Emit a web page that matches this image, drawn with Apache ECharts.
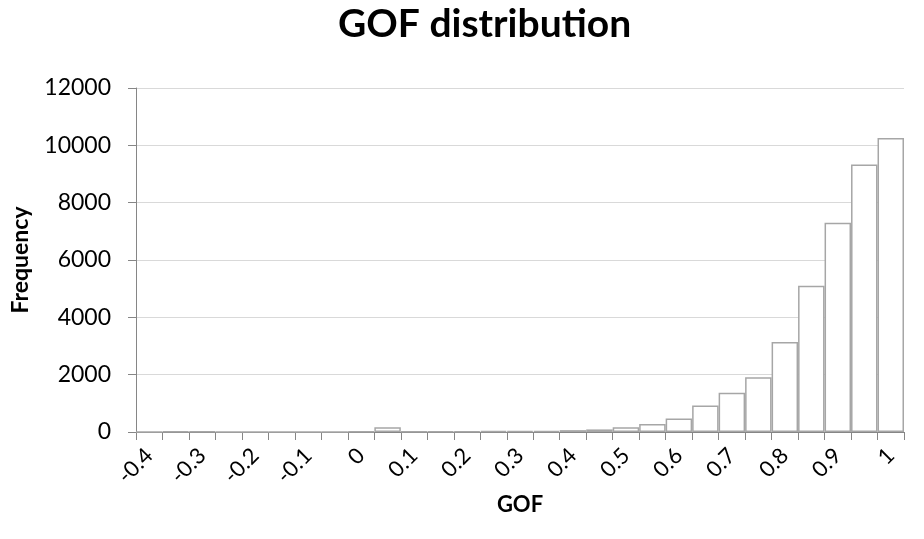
<!DOCTYPE html>
<html>
<head>
<meta charset="utf-8">
<script src="https://cdn.jsdelivr.net/npm/echarts@6/dist/echarts.min.js"></script>
<style>html,body{margin:0;padding:0;background:#fff;}#chart{width:924px;height:539px;}</style>
</head>
<body>
<div id="chart"></div>
<script>
const categories = ['-0.4','-0.35','-0.3','-0.25','-0.2','-0.15','-0.1','-0.05','0','0.05','0.1','0.15','0.2','0.25','0.3','0.35','0.4','0.45','0.5','0.55','0.6','0.65','0.7','0.75','0.8','0.85','0.9','0.95','1'];
const frequency = [0,20,20,0,0,0,0,0,20,170,15,15,25,30,30,35,65,90,170,280,470,925,1365,1910,3140,5100,7300,9330,10260];
const chartTitle = 'GOF distribution';
const xName = 'GOF';
const yName = 'Frequency';

const font = 'Lato, "Open Sans", sans-serif';
const chart = echarts.init(document.getElementById('chart'));
chart.setOption({
  animation: false,
  title: {
    text: chartTitle, left: 333, top: 0,
    textStyle: { fontFamily: font, fontSize: 39, fontWeight: 'bold', color: '#000' }
  },
  grid: { left: 136, right: 20, top: 88, bottom: 107 },
  xAxis: {
    type: 'category', data: categories,
    name: xName, nameLocation: 'middle', nameGap: 58,
    nameTextStyle: { fontFamily: font, fontSize: 22, fontWeight: 'bold', color: '#000' },
    axisLine: { lineStyle: { color: '#868686', width: 1 } },
    axisTick: { show: true, alignWithLabel: false, interval: 0, length: 8, lineStyle: { color: '#868686' } },
    axisLabel: { interval: 1, rotate: 45, fontFamily: font, fontSize: 22, color: '#000', margin: 20 }
  },
  yAxis: {
    type: 'value', min: 0, max: 12000, interval: 2000,
    name: yName, nameLocation: 'middle', nameGap: 104,
    nameTextStyle: { fontFamily: font, fontSize: 23, fontWeight: 'bold', color: '#000' },
    axisLine: { show: true, lineStyle: { color: '#868686', width: 1 } },
    axisTick: { show: true, length: 8, lineStyle: { color: '#868686' } },
    axisLabel: { fontFamily: font, fontSize: 23, color: '#000', margin: 25, formatter: v => String(v) },
    splitLine: { lineStyle: { color: '#d9d9d9', width: 1 } }
  },
  series: [{
    type: 'bar', data: frequency, barCategoryGap: '0%',
    itemStyle: { color: '#ffffff', borderColor: '#a6a6a6', borderWidth: 1.5 }
  }]
});
</script>
</body>
</html>
